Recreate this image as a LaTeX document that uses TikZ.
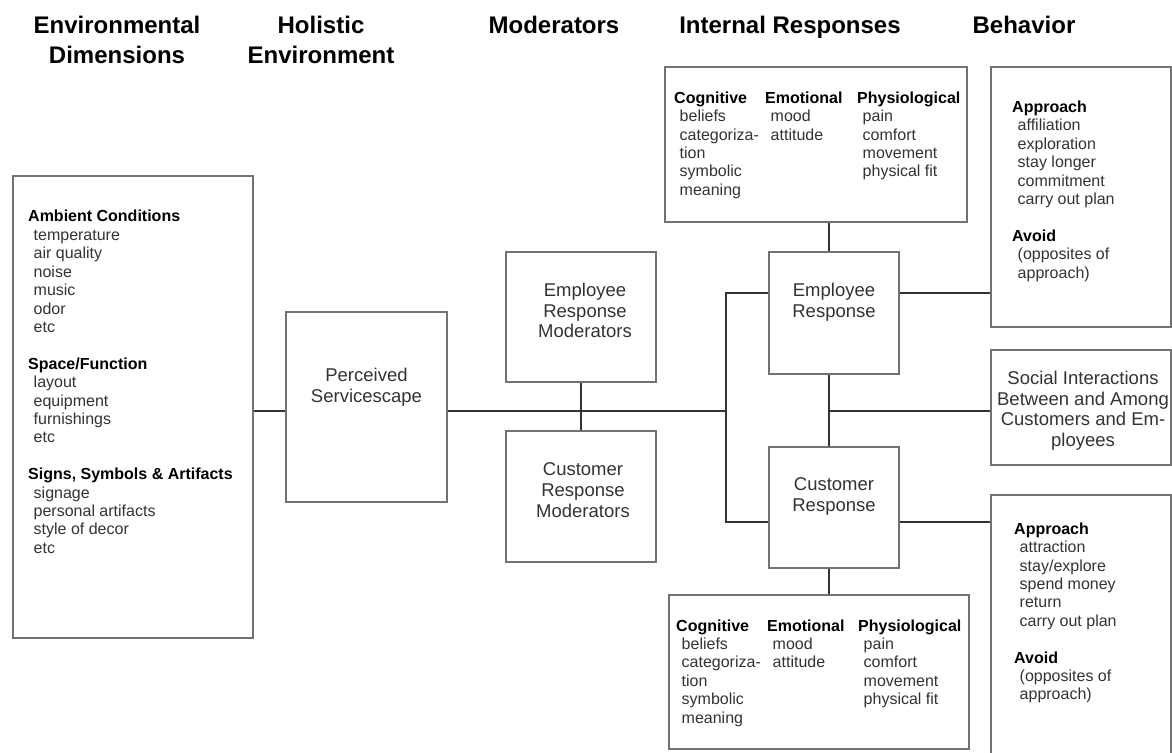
\documentclass[tikz,border=0pt]{standalone}
\usepackage{fontspec}
\setmainfont{Liberation Sans}
\newcommand\sechead[1]{\textcolor{black}{\textbf{#1}}}
\newcommand\ind{\hspace*{5.5pt}}
\begin{document}
\begin{tikzpicture}[x=1pt,y=-1pt,
 box/.style={draw=black!55, line width=1.6pt, inner sep=0pt, fill=white},
 conn/.style={draw=black!80, line width=2.4pt},
 hdr/.style={font=\fontsize{24}{30}\selectfont\bfseries, align=center, inner sep=0pt, anchor=north},
 big/.style={font=\fontsize{18.5}{20.7}\selectfont, text=black!80, align=center, inner sep=0pt, anchor=north},
 lst/.style={font=\fontsize{16}{18.4}\selectfont, text=black!80, align=left, inner sep=0pt, anchor=north west}]
\useasboundingbox (0,0) rectangle (1172,752);
\clip (0,0) rectangle (1172,752);
\fill[white] (0,0) rectangle (1172,752);

% headers
\node[hdr] (h1) at (117,15.8) {Environmental\\Dimensions};
\node[hdr] (h2) at (321,15.8) {Holistic\\Environment};
\node[hdr] (h3) at (554,15.8) {Moderators};
\node[hdr] (h4) at (790,15.8) {Internal Responses};
\node[hdr] (h5) at (1024,15.8) {Behavior};

% boxes
\node[box, minimum width=240pt, minimum height=462pt] (env) at (133,407) {};
\node[box, minimum width=161pt, minimum height=190pt] (perc) at (366.5,407) {};
\node[box, minimum width=150pt, minimum height=130pt] (emod) at (581,317) {};
\node[box, minimum width=150pt, minimum height=131pt] (cmod) at (581,496.5) {};
\node[box, minimum width=130pt, minimum height=122pt] (eresp) at (834,313) {};
\node[box, minimum width=130pt, minimum height=121pt] (cresp) at (834,507.5) {};
\node[box, minimum width=302pt, minimum height=155pt] (topint) at (816,144.5) {};
\node[box, minimum width=300pt, minimum height=154pt] (botint) at (819,672) {};
\node[box, minimum width=180pt, minimum height=260pt] (behtop) at (1081,197) {};
\node[box, minimum width=180pt, minimum height=115pt] (social) at (1081,407.5) {};
\node[box, minimum width=180pt, minimum height=285pt] (behbot) at (1081,637.5) {};

% connectors
\coordinate (sp) at (0,411);
\coordinate (jx) at (726,0);
\coordinate (vx) at (829,0);
\coordinate (ey) at (0,293);
\coordinate (cy) at (0,522);
\draw[conn] (env.east |- sp) -- (perc.west |- sp);
\draw[conn] (perc.east |- sp) -- (jx |- sp);
\draw[conn] (emod.south) -- (cmod.north);
\draw[conn] (eresp.west |- ey) -| (jx |- cy) -- (cresp.west |- cy);
\draw[conn] (topint.south -| vx) -- (eresp.north -| vx);
\draw[conn] (eresp.south -| vx) -- (cresp.north -| vx);
\draw[conn] (vx |- sp) -- (social.west |- sp);
\draw[conn] (eresp.east |- ey) -- (behtop.west |- ey);
\draw[conn] (cresp.east |- cy) -- (behbot.west |- cy);
\draw[conn] (cresp.south -| vx) -- (botint.north -| vx);

% box texts
\node[big] (percT) at (366.5,367.75) {Perceived\\Servicescape};
\node[big] (emodT) at (585,282.75) {Employee\\Response\\Moderators};
\node[big] (cmodT) at (583,462.75) {Customer\\Response\\Moderators};
\node[big] (erespT) at (834,282.75) {Employee\\Response};
\node[big] (crespT) at (834,477.5) {Customer\\Response};
\node[big] (socialT) at (1083,370.75) {Social Interactions\\Between and Among\\Customers and Em-\\ployees};

\node[lst] (envT) at (28,210.2) {\sechead{Ambient Conditions}\\
 \ind temperature\\ \ind air quality\\ \ind noise\\ \ind music\\ \ind odor\\ \ind etc\\[18.4pt]
 \sechead{Space/Function}\\ \ind layout\\ \ind equipment\\ \ind furnishings\\ \ind etc\\[18.4pt]
 \sechead{Signs, Symbols \& Artifacts}\\ \ind signage\\ \ind personal artifacts\\ \ind style of decor\\ \ind etc};

\node[lst] (cogT) at (674,91.5) {\sechead{Cognitive}\\ \ind beliefs\\ \ind categoriza-\\ \ind tion\\ \ind symbolic\\ \ind meaning};
\node[lst] (emoT) at (765,91.5) {\sechead{Emotional}\\ \ind mood\\ \ind attitude};
\node[lst] (phyT) at (857,91.5) {\sechead{Physiological}\\ \ind pain\\ \ind comfort\\ \ind movement\\ \ind physical fit};

\node[lst] (cogB) at (676,619.2) {\sechead{Cognitive}\\ \ind beliefs\\ \ind categoriza-\\ \ind tion\\ \ind symbolic\\ \ind meaning};
\node[lst] (emoB) at (767,619.2) {\sechead{Emotional}\\ \ind mood\\ \ind attitude};
\node[lst] (phyB) at (858,619.2) {\sechead{Physiological}\\ \ind pain\\ \ind comfort\\ \ind movement\\ \ind physical fit};

\node[lst] (behtopT) at (1012,100.8) {\sechead{Approach}\\ \ind affiliation\\ \ind exploration\\ \ind stay longer\\ \ind commitment\\ \ind carry out plan\\[18.4pt]
 \sechead{Avoid}\\ \ind (opposites of\\ \ind approach)};
\node[lst] (behbotT) at (1014,522.5) {\sechead{Approach}\\ \ind attraction\\ \ind stay/explore\\ \ind spend money\\ \ind return\\ \ind carry out plan\\[18.4pt]
 \sechead{Avoid}\\ \ind (opposites of\\ \ind approach)};
\end{tikzpicture}
\end{document}
